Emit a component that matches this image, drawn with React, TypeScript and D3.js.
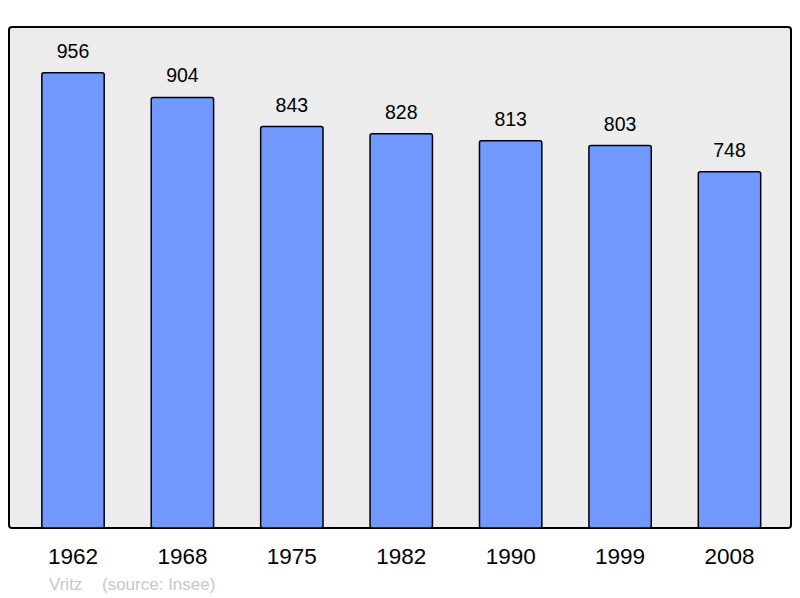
import React from "react";
import * as d3 from "d3";

const years = ["1962", "1968", "1975", "1982", "1990", "1999", "2008"];
const population = [956, 904, 843, 828, 813, 803, 748];

const W = 800;
const H = 598;
const frame = { left: 9, top: 27, right: 791, bottom: 528 };

const App = () => {
  const x = d3
    .scaleBand<string>()
    .domain(years)
    .range([18.3, 784.2])
    .paddingInner(0.43)
    .paddingOuter(0.215);
  const y = d3
    .scaleLinear()
    .domain([0, 1052])
    .range([frame.bottom, frame.top]);

  return (
    <svg
      width={W}
      height={H}
      style={{ position: "absolute", left: 0, top: 0, fontFamily: "Liberation Sans, Arial, sans-serif" }}
    >
      <rect x={0} y={0} width={W} height={H} fill="#ffffff" />
      <rect
        x={frame.left}
        y={frame.top}
        width={frame.right - frame.left}
        height={frame.bottom - frame.top}
        rx={3}
        fill="#ececec"
        stroke="#000"
        strokeWidth={2}
      />
      {years.map((yr, i) => {
        const v = population[i];
        const bx = x(yr) ?? 0;
        const bw = x.bandwidth();
        return (
          <g key={yr}>
            <rect
              x={bx}
              y={y(v)}
              width={bw}
              height={frame.bottom - y(v)}
              rx={2}
              fill="#7098ff"
              stroke="#000"
              strokeWidth={1.5}
            />
            <text x={bx + bw / 2} y={y(v) - 15} textAnchor="middle" fontSize={19.5} fill="#000">
              {v}
            </text>
            <text x={bx + bw / 2} y={564} textAnchor="middle" fontSize={22.5} fill="#000">
              {yr}
            </text>
          </g>
        );
      })}
      <text x={49} y={590} fontSize={17} fill="#c8c8c8">
        Vritz
      </text>
      <text x={102} y={590} fontSize={17} fill="#c8c8c8">
        (source: Insee)
      </text>
    </svg>
  );
};

export default App;
